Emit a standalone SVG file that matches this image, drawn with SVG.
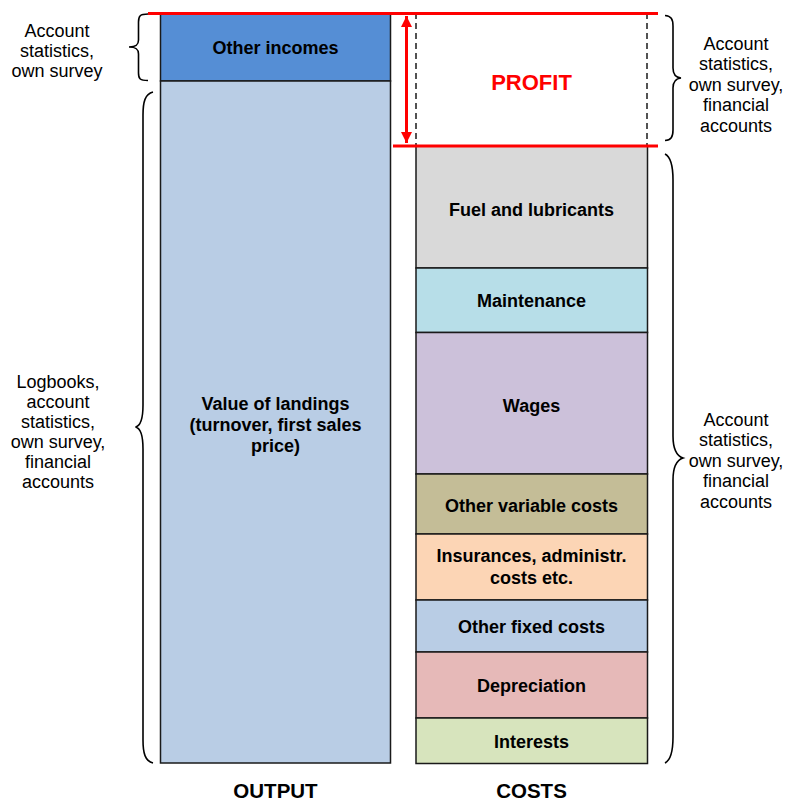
<svg xmlns="http://www.w3.org/2000/svg" width="789" height="803" viewBox="0 0 789 803">
<style>
.box{stroke:#1a1a1a;stroke-width:1.5}
.lbl{font-family:"Liberation Sans",Arial,sans-serif;font-weight:bold;font-size:18px;fill:#000;text-anchor:middle}
.side{font-family:"Liberation Sans",Arial,sans-serif;font-size:18px;fill:#000;text-anchor:middle}
.head{font-family:"Liberation Sans",Arial,sans-serif;font-weight:bold;font-size:20.5px;fill:#000;text-anchor:middle}
.brace{fill:none;stroke:#000;stroke-width:1.6}
.red{stroke:#ff0000;stroke-width:3;fill:none}
.dash{stroke:#1a1a1a;stroke-width:1.5;stroke-dasharray:6,4;fill:none}
</style>
<defs>
<marker id="ah" viewBox="0 0 12 11" refX="11" refY="5.5" markerWidth="12" markerHeight="11" markerUnits="userSpaceOnUse" orient="auto-start-reverse">
<path d="M0,0 L11,5.5 L0,11 Z" fill="#ff0000"/>
</marker>
</defs>
<rect width="789" height="803" fill="#fff"/>

<g id="output-column">
<g id="other-incomes">
<rect class="box" x="160.5" y="13" width="230" height="68" fill="#558ed5"/>
<text class="lbl" x="275.5" y="54">Other incomes</text>
</g>
<g id="value-of-landings">
<rect class="box" x="160.5" y="81" width="230" height="682" fill="#b9cde5"/>
<text class="lbl" x="275.5" y="409.5">Value of landings</text>
<text class="lbl" x="275.5" y="430.5">(turnover, first sales</text>
<text class="lbl" x="275.5" y="451.5">price)</text>
</g>
</g>

<g id="costs-column">
<g id="profit">
<line class="dash" x1="416" y1="13" x2="416" y2="146"/>
<line class="dash" x1="647" y1="13" x2="647" y2="146"/>
<text x="531.5" y="90" font-family="Liberation Sans, Arial, sans-serif" font-weight="bold" font-size="22" fill="#ff0000" text-anchor="middle">PROFIT</text>
</g>
<g id="fuel">
<rect class="box" x="416" y="146" width="231.5" height="122" fill="#d9d9d9"/>
<text class="lbl" x="531.5" y="215.5">Fuel and lubricants</text>
</g>
<g id="maintenance">
<rect class="box" x="416" y="268" width="231.5" height="64.5" fill="#b7dee8"/>
<text class="lbl" x="531.5" y="307">Maintenance</text>
</g>
<g id="wages">
<rect class="box" x="416" y="332.5" width="231.5" height="141.5" fill="#ccc1da"/>
<text class="lbl" x="531.5" y="411.5">Wages</text>
</g>
<g id="other-variable-costs">
<rect class="box" x="416" y="474" width="231.5" height="60" fill="#c4bd97"/>
<text class="lbl" x="531.5" y="512">Other variable costs</text>
</g>
<g id="insurances">
<rect class="box" x="416" y="534" width="231.5" height="66" fill="#fcd5b5"/>
<text class="lbl" x="531.5" y="561.5">Insurances, administr.</text>
<text class="lbl" x="531.5" y="583.5">costs etc.</text>
</g>
<g id="other-fixed-costs">
<rect class="box" x="416" y="600" width="231.5" height="52" fill="#b9cde5"/>
<text class="lbl" x="531.5" y="632.5">Other fixed costs</text>
</g>
<g id="depreciation">
<rect class="box" x="416" y="652" width="231.5" height="66" fill="#e6b9b8"/>
<text class="lbl" x="531.5" y="692">Depreciation</text>
</g>
<g id="interests">
<rect class="box" x="416" y="718" width="231.5" height="45.5" fill="#d7e4bd"/>
<text class="lbl" x="531.5" y="747.5">Interests</text>
</g>
</g>

<g id="connectors">
<line class="red" x1="148" y1="13.5" x2="658" y2="13.5"/>
<line class="red" x1="393" y1="146" x2="658" y2="146"/>
<line class="red" x1="406.5" y1="16" x2="406.5" y2="143" marker-start="url(#ah)" marker-end="url(#ah)"/>
<path class="brace" d="M148,14 C140,14 138.5,16 138.5,22 L138.5,40 C138.5,45 136,47 129,47 C136,47 138.5,49 138.5,54 L138.5,73 C138.5,79 140,80.5 148,80.5"/>
<path class="brace" d="M153,92 C145,94 143,102 143,115 L143,405 C143,420 140,426 135.5,427 C140,428 143,434 143,449 L143,740 C143,753 145,761 153,763"/>
<path class="brace" d="M665,15.5 C671,16 673,19 673,26 L673,68 C673,74 676,77.5 681,78 C676,78.5 673,82 673,88 L673,130 C673,137 671,140 665,140.5"/>
<path class="brace" d="M665,154 C671,157 673,166 673,180 L673,436 C673,450 677,456 683,458 C677,460 673,466 673,480 L673,737 C673,751 671,760 665,763"/>
</g>

<g id="labels">
<text class="side" x="57" y="36.5">Account</text>
<text class="side" x="57" y="56.5">statistics,</text>
<text class="side" x="57" y="76.5">own survey</text>

<text class="side" x="58" y="387.5">Logbooks,</text>
<text class="side" x="58" y="407.5">account</text>
<text class="side" x="58" y="427.5">statistics,</text>
<text class="side" x="58" y="447.5">own survey,</text>
<text class="side" x="58" y="467.5">financial</text>
<text class="side" x="58" y="487.5">accounts</text>

<text class="side" x="736" y="49.5">Account</text>
<text class="side" x="736" y="70">statistics,</text>
<text class="side" x="736" y="90.5">own survey,</text>
<text class="side" x="736" y="111">financial</text>
<text class="side" x="736" y="131.5">accounts</text>

<text class="side" x="736" y="425.5">Account</text>
<text class="side" x="736" y="446">statistics,</text>
<text class="side" x="736" y="466.5">own survey,</text>
<text class="side" x="736" y="487">financial</text>
<text class="side" x="736" y="507.5">accounts</text>

<text class="head" x="275.5" y="798">OUTPUT</text>
<text class="head" x="531.5" y="798">COSTS</text>
</g>
</svg>
